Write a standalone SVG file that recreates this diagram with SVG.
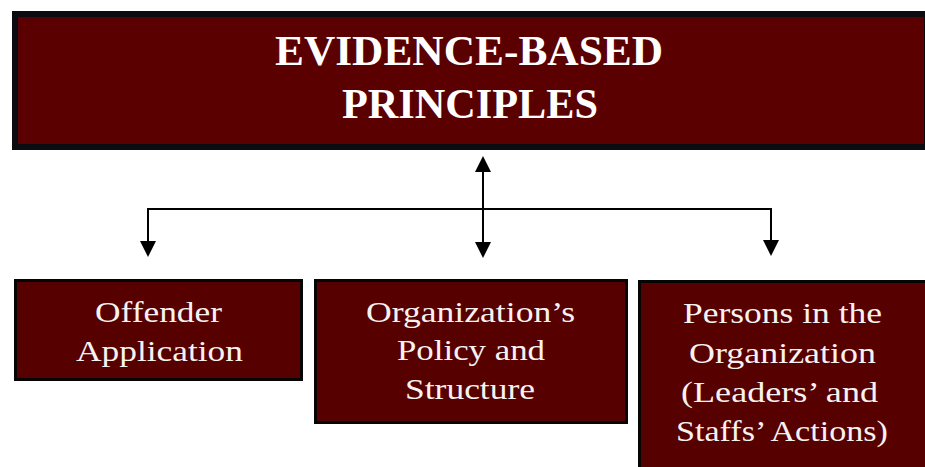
<svg xmlns="http://www.w3.org/2000/svg" width="925" height="467" viewBox="0 0 925 467">
  <defs>
    <style>
      .top { fill: #5a0000; stroke: #0b0b12; stroke-width: 6; }
      .box { fill: #560000; stroke: #050505; stroke-width: 3; }
      .title { font-family: "Liberation Serif", "Times New Roman", serif; font-weight: bold; font-size: 42px; fill: #ffffff; }
      .lbl { font-family: "Liberation Serif", "Times New Roman", serif; font-size: 30px; fill: #f7f2f2; text-anchor: middle; }
      .conn { fill: none; stroke: #000000; stroke-width: 2; }
    </style>
    <marker id="arrow" markerUnits="userSpaceOnUse" markerWidth="16" markerHeight="16" viewBox="0 0 16 16" refX="2" refY="8" orient="auto-start-reverse">
      <path d="M0,0 L16,8 L0,16 z" fill="#000000"/>
    </marker>
  </defs>
  <rect width="925" height="467" fill="#ffffff"/>

  <g id="node-principles">
    <rect class="top" x="15" y="14" width="912" height="133"/>
    <text class="title" x="275" y="65" textLength="388" lengthAdjust="spacingAndGlyphs">EVIDENCE-BASED</text>
    <text class="title" x="342" y="118" textLength="256" lengthAdjust="spacingAndGlyphs">PRINCIPLES</text>
  </g>

  <g id="connectors">
    <path class="conn" d="M483,170 V244" marker-start="url(#arrow)" marker-end="url(#arrow)"/>
    <path class="conn" d="M148,243 V209 H771 V242" marker-start="url(#arrow)" marker-end="url(#arrow)"/>
  </g>

  <g id="node-offender">
    <rect class="box" x="15.5" y="280.5" width="286" height="99"/>
    <text class="lbl" transform="translate(158.5,322) scale(1.175,1)" textLength="108.1" lengthAdjust="spacingAndGlyphs">Offender</text>
    <text class="lbl" transform="translate(159.5,361) scale(1.175,1)" textLength="142.1" lengthAdjust="spacingAndGlyphs">Application</text>
  </g>

  <g id="node-organization">
    <rect class="box" x="315.5" y="280.5" width="311" height="142"/>
    <text class="lbl" transform="translate(470.5,322) scale(1.175,1)" textLength="177.9" lengthAdjust="spacingAndGlyphs">Organization’s</text>
    <text class="lbl" transform="translate(471,360) scale(1.175,1)" textLength="126" lengthAdjust="spacingAndGlyphs">Policy and</text>
    <text class="lbl" transform="translate(470,399) scale(1.175,1)" textLength="110.6" lengthAdjust="spacingAndGlyphs">Structure</text>
  </g>

  <g id="node-persons">
    <rect class="box" x="639.5" y="281.5" width="292" height="200"/>
    <text class="lbl" transform="translate(782.5,323) scale(1.175,1)" textLength="169.4" lengthAdjust="spacingAndGlyphs">Persons in the</text>
    <text class="lbl" transform="translate(782.5,363) scale(1.175,1)" textLength="159.1" lengthAdjust="spacingAndGlyphs">Organization</text>
    <text class="lbl" transform="translate(779.5,402) scale(1.175,1)" textLength="167.7" lengthAdjust="spacingAndGlyphs">(Leaders’ and</text>
    <text class="lbl" transform="translate(782,441) scale(1.175,1)" textLength="180.4" lengthAdjust="spacingAndGlyphs">Staffs’ Actions)</text>
  </g>
</svg>
